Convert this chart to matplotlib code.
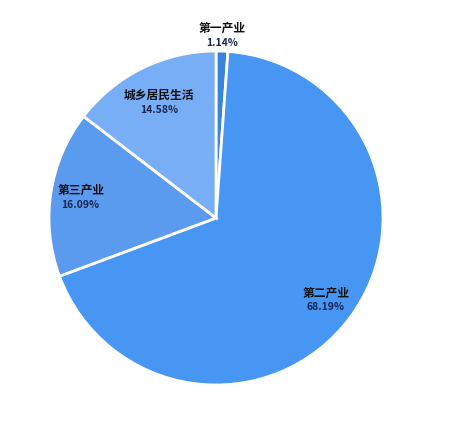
import numpy as np
import matplotlib
matplotlib.use("Agg")
import matplotlib.pyplot as plt

plt.rcParams['font.family'] = ['Noto Sans CJK SC', 'DejaVu Sans']

categories = ['第一产业', '第二产业', '第三产业', '城乡居民生活']
values = [1.14, 68.19, 16.09, 14.58]
pct_labels = ['1.14%', '68.19%', '16.09%', '14.58%']
colors = ['#3a82dc', '#4796f4', '#5b9bef', '#78aef5']
label_dist = [1.09, 0.82, 0.82, 0.77]

W, H = 465, 436
fig = plt.figure(figsize=(W / 100, H / 100), dpi=100)
ax = fig.add_axes([0, 0, 1, 1])
ax.set_xlim(0, W)
ax.set_ylim(0, H)
ax.set_aspect('equal')
ax.axis('off')

cx, cy, r = 216, 218, 167
wedges, _ = ax.pie(values, colors=colors, startangle=90, counterclock=False,
                   center=(cx, cy), radius=r, frame=True,
                   wedgeprops=dict(edgecolor='white', linewidth=2))
ax.set_xlim(0, W)
ax.set_ylim(0, H)
ax.axis('off')

for w, cat, pl, d in zip(wedges, categories, pct_labels, label_dist):
    ang = np.deg2rad((w.theta1 + w.theta2) / 2)
    x = cx + d * r * np.cos(ang)
    y = cy + d * r * np.sin(ang)
    ax.text(x, y + 1, cat, ha='center', va='bottom', fontsize=8.5,
            fontweight='bold', color='#111111')
    ax.text(x, y - 2, pl, ha='center', va='top', fontsize=7.5,
            fontweight='bold', color='#1a2550')

fig.savefig('out.png', dpi=100, facecolor='white')
